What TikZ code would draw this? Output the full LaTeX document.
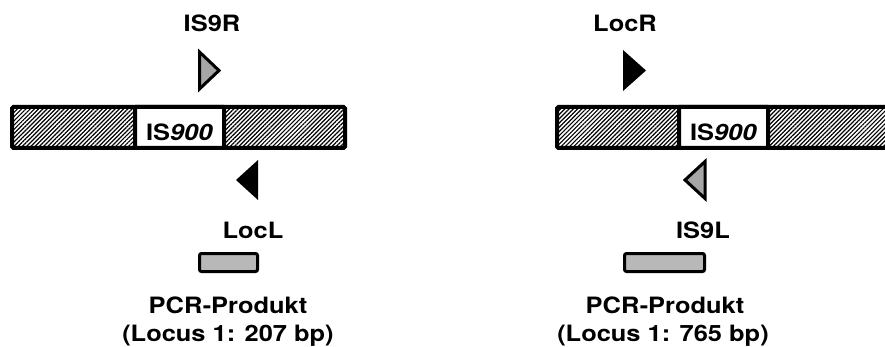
\documentclass[tikz,border=0pt]{standalone}
\usepackage{fontspec}
\setmainfont{TeX Gyre Heros}
\usetikzlibrary{patterns.meta}
\begin{document}
\begin{tikzpicture}[x=1pt,y=-1pt,
  lbl/.style={font=\fontsize{22.5}{27}\selectfont\bfseries, inner sep=0pt, anchor=base, xscale=1.13, transform shape},
  hatchbar/.style={line width=4pt, rounded corners=1.5pt,
     pattern={Lines[angle=45,distance=3pt,line width=1.2pt]}},
  isbox/.style={line width=4pt, fill=white, rounded corners=1pt},
  pcrbar/.style={line width=3pt, rounded corners=2pt, fill=black!28},
  graytri/.style={line width=3pt, fill=black!35, line join=miter},
  blacktri/.style={fill=black}]
\useasboundingbox (0,0) rectangle (885,347);
\begin{scope}
\clip (0,0) rectangle (885,347);
% left construct
\draw[hatchbar] (12,107) rectangle (345,148);
\draw[isbox] (135,107) rectangle (224,148);
\node[lbl] (is900a) at (179.5,141) {IS\textit{900}};
\draw[graytri] (199.5,52) -- (219,70.5) -- (199.5,89) -- cycle;
\fill[blacktri] (258,160) -- (236,180) -- (258,200) -- cycle;
\node[lbl] (is9r) at (212,32) {IS9R};
\node[lbl] (locl) at (253,239) {LocL};
\draw[pcrbar] (199.5,253.5) rectangle (257.5,271.5);
\node[lbl] (pcra) at (228,313) {PCR-Produkt};
\node[lbl] (loca) at (228,341) {(Locus 1: 207 bp)};
% right construct
\draw[hatchbar] (557,107) rectangle (905,148);
\draw[isbox] (679,107) rectangle (768,148);
\node[lbl] (is900b) at (723.5,141) {IS\textit{900}};
\fill[blacktri] (623,50) -- (646,70.5) -- (623,91) -- cycle;
\draw[graytri] (705,161.5) -- (685,180) -- (705,198.5) -- cycle;
\node[lbl] (locr) at (625,32) {LocR};
\node[lbl] (is9l) at (703,239) {IS9L};
\draw[pcrbar] (624.5,253.5) rectangle (704.5,271.5);
\node[lbl] (pcrb) at (665,313) {PCR-Produkt};
\node[lbl] (locb) at (663,341) {(Locus 1: 765 bp)};
\end{scope}
\end{tikzpicture}
\end{document}
